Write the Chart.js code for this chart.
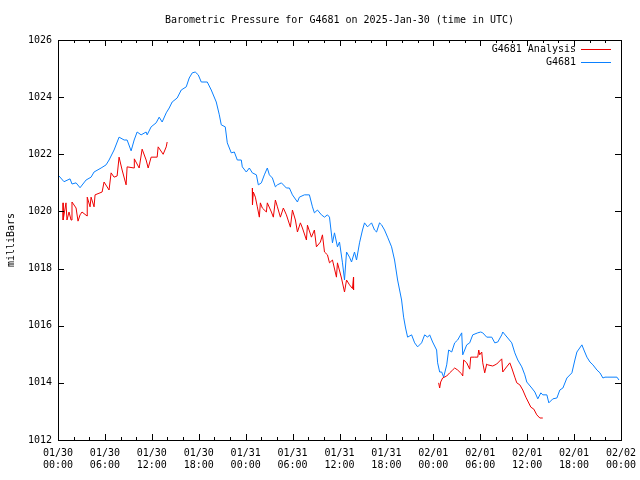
<!DOCTYPE html>
<html lang="en">
<head>
  <meta charset="UTF-8">
  <title>Barometric Pressure for G4681</title>
  <script src="https://cdn.jsdelivr.net/npm/chart.js"></script>
  <style>
    body {
      margin: 0;
      background: #ffffff;
    }
    canvas {
      display: block;
    }
  </style>
</head>
<body>
  <canvas id="pressureChart" width="640" height="480"></canvas>

  <script>
    // hours since 01/30 00:00 UTC
    const gaugeHours = [
      0.13, 0.77, 1.54, 1.79, 2.31, 2.82, 3.59, 4.23, 4.61, 5.51, 6.15, 6.53, 7.17, 7.81, 8.46, 8.84,
      9.35, 9.74, 10.12, 10.63, 11.27, 11.4, 11.91, 12.55, 12.94, 13.32, 13.84, 14.22, 14.6, 15.24,
      15.76, 16.4, 16.78, 17.17, 17.55, 17.94, 18.32, 19.09, 19.6, 20.24, 20.63, 20.88, 21.39, 21.65,
      22.16, 22.55, 22.93, 23.44, 23.57, 24.08, 24.47, 24.85, 25.37, 25.62, 26.01, 26.39, 26.77, 27.03,
      27.42, 27.8, 28.06, 28.57, 29.21, 29.59, 29.98, 30.62, 30.87, 31.51, 32.15, 32.54, 32.79, 33.18,
      33.69, 34.08, 34.46, 34.72, 35.1, 35.36, 35.74, 36.0, 36.38, 36.64, 36.9, 37.28, 37.54, 37.92,
      38.18, 38.56, 38.94, 39.2, 39.59, 40.1, 40.48, 40.74, 41.12, 41.38, 41.76, 42.15, 42.66, 43.04,
      43.43, 43.94, 44.2, 44.45, 44.71, 45.22, 45.61, 45.99, 46.5, 46.89, 47.27, 47.53, 47.91, 48.42,
      48.55, 48.81, 49.07, 49.32, 49.71, 49.96, 50.35, 50.73, 51.11, 51.63, 51.76, 52.27, 52.65, 53.04,
      53.68, 54.06, 54.32, 54.83, 55.47, 55.86, 56.24, 56.75, 56.88, 57.52, 58.03, 58.42, 58.8, 59.31,
      59.7, 59.95, 60.59, 60.98, 61.36, 61.75, 62.0, 62.52, 62.77, 63.28, 63.8, 64.18, 64.57, 65.08,
      65.72, 66.1, 66.36, 67.0, 67.26, 67.64, 68.03, 68.41, 68.92, 69.31, 69.69, 69.95, 70.33, 71.48,
      71.74
    ];
    const gaugePressure = [
      1021.24, 1021.04, 1021.14, 1020.96, 1021.0, 1020.83, 1021.1, 1021.2, 1021.38, 1021.52, 1021.63, 1021.8, 1022.15, 1022.6, 1022.5, 1022.5,
      1022.12, 1022.5, 1022.78, 1022.68, 1022.78, 1022.68, 1022.96, 1023.1, 1023.3, 1023.13, 1023.45, 1023.62, 1023.83, 1023.97,
      1024.25, 1024.36, 1024.67, 1024.85, 1024.88, 1024.78, 1024.53, 1024.53, 1024.25, 1023.83, 1023.38, 1023.03, 1022.96, 1022.4,
      1022.05, 1022.08, 1021.8, 1021.8, 1021.56, 1021.38, 1021.52, 1021.35, 1021.28, 1020.93, 1021.0, 1021.28, 1021.52, 1021.28,
      1021.17, 1020.86, 1020.93, 1021.0, 1020.82, 1020.82, 1020.58, 1020.33, 1020.5, 1020.58, 1020.58, 1020.16, 1019.95, 1020.05,
      1019.88, 1019.8, 1019.88, 1019.8, 1018.9, 1019.25, 1018.76, 1018.93, 1018.2, 1017.6, 1018.58, 1018.4, 1018.23, 1018.58,
      1018.3, 1018.9, 1019.35, 1019.6, 1019.46, 1019.6, 1019.35, 1019.28, 1019.6, 1019.53, 1019.35, 1019.1, 1018.76, 1018.3,
      1017.6, 1016.9, 1016.3, 1015.92, 1015.6, 1015.68, 1015.4, 1015.26, 1015.4, 1015.68, 1015.6, 1015.68, 1015.43, 1015.15,
      1014.7, 1014.38, 1014.38, 1014.2, 1014.63, 1015.15, 1015.08, 1015.4, 1015.5, 1015.75, 1014.98, 1015.33, 1015.4, 1015.68,
      1015.75, 1015.78, 1015.75, 1015.6, 1015.6, 1015.4, 1015.43, 1015.68, 1015.78, 1015.57, 1015.4, 1015.05, 1014.8, 1014.56,
      1014.28, 1014.03, 1013.82, 1013.68, 1013.44, 1013.65, 1013.58, 1013.58, 1013.3, 1013.44, 1013.47, 1013.75, 1013.82, 1014.17,
      1014.35, 1014.8, 1015.08, 1015.33, 1015.15, 1014.9, 1014.73, 1014.63, 1014.45, 1014.35, 1014.17, 1014.2, 1014.2, 1014.2,
      1014.1
    ];

    // three analysis runs, null marks the gaps between them
    const analysisHours = [
      0.64, 0.66, 1.02, 1.15, 1.41, 1.67, 1.79, 2.31, 2.56, 2.82, 3.07, 3.72, 3.74, 4.1, 4.23, 4.61,
      4.74, 5.64, 5.89, 6.53, 6.79, 7.17, 7.56, 7.81, 8.2, 8.71, 8.84, 9.74, 9.76, 10.38, 10.76, 11.27,
      11.53, 11.91, 12.68, 12.81, 13.45, 13.84, 13.96,
      19.0,
      24.85, 24.87, 24.98, 25.24, 25.49, 25.75, 25.88, 26.13, 26.65, 26.77, 27.29, 27.54, 27.8, 28.06,
      28.44, 28.82, 29.21, 29.72, 29.98, 30.36, 30.62, 31.0, 31.26, 31.77, 31.9, 32.41, 32.79, 33.05,
      33.56, 33.82, 34.08, 34.46, 34.72, 35.1, 35.61, 35.74, 36.25, 36.64, 36.9, 37.28, 37.66, 37.79,
      37.8,
      43.0,
      48.68, 48.81, 48.94, 49.19, 49.71, 50.09, 50.47, 50.73, 51.11, 51.63, 51.76, 51.88, 52.27, 52.65,
      52.78, 53.29, 53.68, 53.81, 53.93, 54.19, 54.32, 54.57, 54.83, 54.96, 55.6, 56.11, 56.75, 56.88,
      57.26, 57.78, 58.03, 58.42, 58.67, 59.06, 59.44, 59.83, 60.47, 60.85, 61.23, 61.62, 62.0
    ];
    const analysisPressure = [
      1020.3, 1019.7, 1020.3, 1019.7, 1019.98, 1019.7, 1020.33, 1020.12, 1019.66, 1019.88, 1019.98, 1019.84, 1020.5, 1020.16, 1020.5, 1020.16,
      1020.58, 1020.68, 1021.03, 1020.75, 1021.35, 1021.2, 1021.24, 1021.9, 1021.45, 1020.93, 1021.56, 1021.52, 1021.84, 1021.52, 1022.18, 1021.8,
      1021.52, 1021.9, 1021.9, 1022.26, 1022.0, 1022.26, 1022.43,
      null,
      1020.82, 1020.23, 1020.68, 1020.5, 1020.16, 1019.8, 1020.3, 1020.12, 1019.98, 1020.3, 1019.98, 1019.8, 1020.4, 1020.16,
      1019.8, 1020.12, 1019.88, 1019.45, 1020.05, 1019.7, 1019.28, 1019.6, 1019.42, 1019.0, 1019.52, 1019.1, 1019.35, 1018.76,
      1018.93, 1019.18, 1018.58, 1018.48, 1018.2, 1018.3, 1017.7, 1018.2, 1017.67, 1017.18, 1017.6, 1017.43, 1017.3, 1017.7,
      1017.25,
      null,
      1014.0, 1013.82, 1014.03, 1014.17, 1014.24, 1014.35, 1014.45, 1014.52, 1014.45, 1014.31, 1014.24, 1014.8, 1014.7, 1014.48,
      1014.9, 1014.9, 1014.9, 1015.15, 1014.98, 1015.08, 1014.7, 1014.35, 1014.66, 1014.63, 1014.59, 1014.66, 1014.84, 1014.38,
      1014.52, 1014.7, 1014.52, 1014.2, 1014.0, 1013.93, 1013.75, 1013.5, 1013.15, 1013.08, 1012.88, 1012.77, 1012.77
    ];

    const xTickDates = ['01/30', '01/30', '01/30', '01/30', '01/31', '01/31', '01/31', '01/31', '02/01', '02/01', '02/01', '02/01', '02/02'];
    const xTickTimes = ['00:00', '06:00', '12:00', '18:00', '00:00', '06:00', '12:00', '18:00', '00:00', '06:00', '12:00', '18:00', '00:00'];

    const FONT = '10px "DejaVu Sans Mono", monospace';

    // gnuplot-ish frame: box, inward ticks, title, y label, key
    const frame = {
      id: 'frame',
      afterDraw(chart) {
        const ctx = chart.ctx;
        const a = chart.chartArea;
        const xs = chart.scales.x, ys = chart.scales.y;
        ctx.save();
        ctx.strokeStyle = '#000';
        ctx.lineWidth = 1;
        ctx.strokeRect(Math.round(a.left) + 0.5, Math.round(a.top) + 0.5,
                       Math.round(a.right - a.left), Math.round(a.bottom - a.top));

        ctx.beginPath();
        for (let h = 0; h <= 72; h += 2) {
          const x = Math.round(xs.getPixelForValue(h)) + 0.5;
          const len = h % 6 === 0 ? 6 : 3;
          ctx.moveTo(x, a.bottom); ctx.lineTo(x, a.bottom - len);
          ctx.moveTo(x, a.top); ctx.lineTo(x, a.top + len);
        }
        for (let v = 1012; v <= 1026; v += 2) {
          const y = Math.round(ys.getPixelForValue(v)) + 0.5;
          ctx.moveTo(a.left, y); ctx.lineTo(a.left + 6, y);
          ctx.moveTo(a.right, y); ctx.lineTo(a.right - 6, y);
        }
        ctx.stroke();

        ctx.fillStyle = '#000';
        ctx.font = FONT;
        ctx.textAlign = 'center';
        ctx.textBaseline = 'middle';
        ctx.fillText('Barometric Pressure for G4681 on 2025-Jan-30 (time in UTC)', (a.left + a.right) / 2, 20);

        ctx.save();
        ctx.translate(11, (a.top + a.bottom) / 2);
        ctx.rotate(-Math.PI / 2);
        ctx.fillText('milliBars', 0, 0);
        ctx.restore();

        chart.data.datasets.forEach((ds, i) => {
          const y = 49 + i * 13;
          ctx.textAlign = 'right';
          ctx.fillText(ds.label, 576, y);
          ctx.strokeStyle = ds.borderColor;
          ctx.beginPath();
          ctx.moveTo(581, y + 0.5);
          ctx.lineTo(611, y + 0.5);
          ctx.stroke();
        });
        ctx.restore();
      }
    };

    new Chart(document.getElementById('pressureChart'), {
      type: 'line',
      data: {
        datasets: [
          {
            label: 'G4681 Analysis',
            data: analysisHours.map((h, i) => ({ x: h, y: analysisPressure[i] })),
            borderColor: '#ee0000',
            borderWidth: 1,
            pointRadius: 0,
            spanGaps: false
          },
          {
            label: 'G4681',
            data: gaugeHours.map((h, i) => ({ x: h, y: gaugePressure[i] })),
            borderColor: '#0a80ff',
            borderWidth: 1,
            pointRadius: 0
          }
        ]
      },
      options: {
        responsive: false,
        animation: false,
        devicePixelRatio: 1,
        layout: { padding: { top: 40, right: 19, left: 0, bottom: 0 } },
        plugins: {
          legend: { display: false },
          title: { display: false },
          tooltip: { enabled: false }
        },
        scales: {
          x: {
            type: 'linear',
            min: 0,
            max: 72,
            afterFit: s => { s.height = 40; s.paddingLeft = 0; s.paddingRight = 0; },
            afterBuildTicks: s => { s.ticks = xTickDates.map((d, i) => ({ value: i * 6 })); },
            grid: { display: false, drawTicks: false },
            border: { display: false },
            ticks: {
              autoSkip: false,
              maxRotation: 0,
              padding: 7,
              color: '#000',
              font: { family: '"DejaVu Sans Mono", monospace', size: 10, lineHeight: 1.25 },
              callback: (v, i) => [xTickDates[i], xTickTimes[i]]
            }
          },
          y: {
            min: 1012,
            max: 1026,
            afterFit: s => { s.width = 58; s.paddingTop = 0; s.paddingBottom = 0; },
            grid: { display: false, drawTicks: false },
            border: { display: false },
            ticks: {
              stepSize: 2,
              padding: 6,
              color: '#000',
              font: { family: '"DejaVu Sans Mono", monospace', size: 10 },
              callback: v => String(v)
            }
          }
        }
      },
      plugins: [frame]
    });
  </script>
</body>
</html>
